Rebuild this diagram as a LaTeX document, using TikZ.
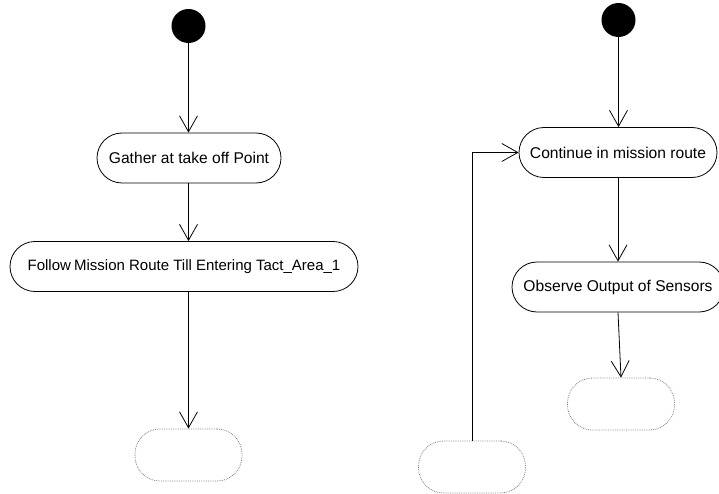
\documentclass[tikz,border=0pt]{standalone}
\usepackage{fontspec}
\setmainfont{Liberation Sans}
\usetikzlibrary{arrows.meta}
\begin{document}
\begin{tikzpicture}[x=1pt,y=-1pt,
  act/.style={draw, line width=0.8pt, rounded corners=25pt, minimum height=50pt,
              inner sep=0pt, font=\fontsize{15.6}{18}\selectfont},
  pending/.style={draw=gray, densely dotted, line width=0.8pt, rounded corners=25pt,
                  minimum width=107pt, minimum height=52pt},
  initial/.style={circle, fill=black, minimum size=34pt, inner sep=0pt},
  flow/.style={-{Straight Barb[length=16pt,width=18pt]}, line width=0.8pt}
]
\useasboundingbox (0,0) rectangle (719,494);

% left swimlane
\node[initial] (s1) at (188.5,26) {};
\node[act, minimum width=184pt] (gather) at (189,158) {Gather at take off Point};
\node[act, minimum width=348pt, font=\fontsize{15}{18}\selectfont] (follow) at (184,266.5)
  {Follow\kern-1pt\ Mission Route Till Entering Tact\_Area\_1};
\node[pending] (p1) at (188.5,455) {};

\draw[flow] (s1) -- (s1 |- gather.north);
\draw[flow] (gather.south -| s1) -- (s1 |- follow.north);
\draw[flow] (p1.north |- follow.south) -- (p1.north);

% right swimlane
\node[initial] (s2) at (618.5,20) {};
\node[act, minimum width=198pt] (cont) at (618,152.5) {Continue in mission route};
\node[act, minimum width=212pt] (obs) at (618,287) {Observe Output of Sensors};
\node[pending] (p2) at (621,404) {};
\node[pending] (p3) at (472,467) {};

\draw[flow] (s2) -- (s2 |- cont.north);
\draw[flow] (cont.south) -- (obs.north);
\draw[flow] (obs.south) -- (p2.north);
\draw[flow] (p3.north) |- (cont.west);
\end{tikzpicture}
\end{document}
